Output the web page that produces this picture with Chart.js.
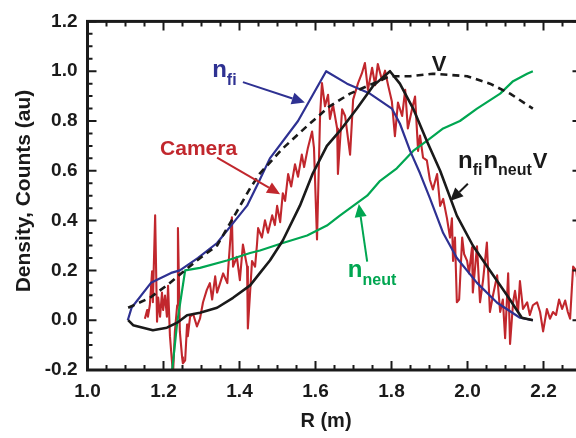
<!DOCTYPE html>
<html>
<head>
<meta charset="utf-8">
<script src="https://cdn.jsdelivr.net/npm/chart.js@4.4.1/dist/chart.umd.min.js"></script>
<style>
  html, body { margin: 0; padding: 0; background: #fff; overflow: hidden; }
  #wrap { width: 576px; height: 438px; overflow: hidden; }
  canvas { display: block; }
</style>
</head>
<body>
<div id="wrap"><canvas id="myChart" width="600" height="438"></canvas></div>
<script>
// n_fi (blue)
const nfiR = [1.106,1.116,1.167,1.220,1.243,1.291,1.341,1.383,1.420,1.449,1.480,1.554,1.628,1.683,1.743,1.801,1.822,1.849,1.875,1.901,1.936,1.972,2.025,2.078,2.138,2.172];
const nfiVal = [0.00,0.05,0.15,0.19,0.20,0.25,0.31,0.39,0.46,0.55,0.65,0.80,1.00,0.95,0.91,0.85,0.79,0.68,0.59,0.49,0.35,0.25,0.15,0.07,0.01,0.00];

// V (dashed)
const vR = [1.107,1.164,1.209,1.288,1.341,1.383,1.428,1.454,1.514,1.578,1.638,1.691,1.751,1.796,1.849,1.909,1.999,2.059,2.112,2.172];
const vVal = [0.05,0.09,0.14,0.24,0.30,0.41,0.53,0.59,0.69,0.78,0.86,0.91,0.95,0.98,0.98,0.99,0.98,0.95,0.91,0.85];

// n_fi n_neut V (black)
const prodR = [1.107,1.120,1.172,1.209,1.236,1.262,1.296,1.341,1.383,1.428,1.454,1.480,1.514,1.559,1.593,1.630,1.664,1.709,1.751,1.796,1.822,1.857,1.893,1.928,1.972,2.014,2.059,2.104,2.143,2.172];
const prodVal = [0.00,-0.02,-0.04,-0.03,-0.01,0.02,0.03,0.05,0.09,0.14,0.19,0.24,0.32,0.46,0.59,0.70,0.76,0.85,0.94,1.00,0.95,0.85,0.72,0.60,0.42,0.30,0.20,0.10,0.01,0.00];

// n_neut (green)
const neutR = [1.216,1.236,1.257,1.296,1.367,1.428,1.454,1.514,1.578,1.630,1.664,1.736,1.770,1.814,1.857,1.893,1.936,1.980,2.025,2.086,2.120,2.157,2.172];
const neutVal = [-0.30,-0.01,0.20,0.21,0.24,0.27,0.28,0.31,0.34,0.38,0.42,0.50,0.56,0.61,0.68,0.72,0.77,0.80,0.85,0.91,0.96,0.99,1.00];

// Camera counts (red)
const camR = [1.151,1.157,1.159,1.164,1.170,1.172,1.178,1.183,1.186,1.191,
  1.196,1.199,1.204,1.209,1.212,1.217,1.222,1.225,1.230,1.236,
  1.238,1.243,1.249,1.251,1.257,1.262,1.264,1.270,1.278,1.288,
  1.296,1.304,1.314,1.322,1.328,1.336,1.341,1.349,1.357,1.368,
  1.370,1.380,1.383,1.393,1.401,1.409,1.420,1.422,1.433,1.441,
  1.446,1.449,1.459,1.467,1.475,1.486,1.493,1.499,1.507,1.514,
  1.520,1.528,1.536,1.546,1.554,1.564,1.570,1.580,1.591,1.596,
  1.604,1.612,1.617,1.625,1.633,1.638,1.646,1.657,1.659,1.670,
  1.678,1.691,1.699,1.712,1.722,1.730,1.738,1.749,1.757,1.764,
  1.775,1.783,1.791,1.801,1.809,1.817,1.828,1.836,1.843,1.854,
  1.862,1.870,1.875,1.883,1.893,1.901,1.909,1.920,1.928,1.936,
  1.946,1.954,1.959,1.962,1.967,1.972,1.978,1.986,1.991,1.999,
  2.004,2.012,2.014,2.025,2.033,2.041,2.051,2.059,2.067,2.078,
  2.086,2.093,2.099,2.107,2.112,2.120,2.125,2.133,2.138,2.146,
  2.157,2.164,2.172,2.183,2.191,2.199,2.209,2.217,2.225,2.233,
  2.241,2.249,2.257,2.264,2.270,2.275,2.278,2.286,2.296];
const camVal = [0.006,0.041,0.014,0.060,0.196,0.072,0.421,-0.006,0.091,0.014,
  0.111,0.041,0.099,0.014,0.138,-0.064,-0.161,-0.219,-0.045,0.060,
  0.370,-0.045,-0.149,-0.173,-0.161,-0.017,-0.064,0.014,0.025,-0.025,
  0.006,0.072,0.122,0.149,0.083,0.176,0.111,0.149,0.188,0.149,
  0.200,0.413,0.215,0.254,0.161,0.304,0.215,-0.033,0.238,0.215,
  0.304,0.370,0.332,0.401,0.351,0.421,0.382,0.459,0.394,0.510,
  0.479,0.587,0.537,0.626,0.576,0.665,0.615,0.692,0.758,0.692,
  0.324,0.820,0.952,0.859,0.905,0.808,0.866,0.770,0.587,0.847,
  0.820,0.665,0.886,0.952,0.991,1.033,0.925,1.014,0.944,1.029,
  0.964,1.002,0.944,0.878,0.739,0.874,0.820,0.925,0.770,0.847,
  0.898,0.680,0.742,0.653,0.642,0.564,0.525,0.587,0.459,0.487,
  0.409,0.332,0.409,0.238,0.332,0.072,0.083,0.332,0.266,0.238,
  0.188,0.293,0.111,0.297,0.072,0.161,0.312,0.033,0.099,0.180,
  0.033,0.083,-0.072,0.188,-0.095,0.072,0.118,0.033,0.157,0.045,
  0.072,0.021,0.060,0.072,0.033,-0.045,0.045,0.006,0.033,0.021,
  0.083,0.045,0.079,0.033,0.006,0.138,0.215,0.200,0.070];

// axis ticks
const xTickValues = [1.0,1.2,1.4,1.6,1.8,2.0,2.2];
const yTickValues = [-0.2,0.0,0.2,0.4,0.6,0.8,1.0,1.2];
const minorStep = 0.05;

const BLUE = "#2e3192", GREEN = "#00a651", RED = "#c1272d", BLACK = "#1a1a1a";

const zip = (xs, ys) => xs.map((x, i) => ({ x: x, y: ys[i] }));

// text notes and arrows, in data units
const notes = [
  { color: BLUE, at: [1.328, 0.975], parts: [["n", 24, 0], ["fi", 16, 8]] },
  { color: RED, at: [1.191, 0.665], parts: [["Camera", 21, 0]] },
  { color: BLACK, at: [1.906, 1.002], parts: [["V", 22, 0]] },
  { color: BLACK, at: [1.975, 0.611], parts: [["n", 24, 0], ["fi", 16, 7], ["n", 24, 0], ["neut", 16, 7], ["V", 22, 0]] },
  { color: GREEN, at: [1.685, 0.173], parts: [["n", 24, 0], ["neut", 16, 8]] }
];
const arrows = [
  { color: BLUE, from: [1.409, 0.956], to: [1.572, 0.874] },
  { color: RED, from: [1.341, 0.653], to: [1.507, 0.506] },
  { color: GREEN, from: [1.736, 0.235], to: [1.714, 0.467] },
  { color: BLACK, from: [2.001, 0.548], to: [1.954, 0.479] }
];

const frameTicks = {
  id: "frameTicks",
  afterDatasetsDraw(chart) {
    const { ctx, chartArea: a, scales: { x, y } } = chart;
    ctx.save();
    ctx.strokeStyle = BLACK;
    ctx.lineWidth = 2;
    ctx.beginPath();
    for (let v = x.min; v <= x.max + 1e-9; v += minorStep) {
      const major = xTickValues.some(t => Math.abs(t - v) < 1e-6);
      const len = major ? 9 : 5;
      const px = x.getPixelForValue(v);
      ctx.moveTo(px, a.bottom); ctx.lineTo(px, a.bottom - len);
      ctx.moveTo(px, a.top); ctx.lineTo(px, a.top + len);
    }
    for (let v = y.min; v <= y.max + 1e-9; v += minorStep) {
      const major = yTickValues.some(t => Math.abs(t - v) < 1e-6);
      const len = major ? 9 : 5;
      const py = y.getPixelForValue(v);
      ctx.moveTo(a.left, py); ctx.lineTo(a.left + len, py);
      ctx.moveTo(a.right, py); ctx.lineTo(a.right - len, py);
    }
    ctx.stroke();
    ctx.lineWidth = 3;
    ctx.strokeRect(a.left, a.top, a.right - a.left, a.bottom - a.top);

    // axis titles
    ctx.fillStyle = BLACK;
    ctx.font = "bold 20px 'Liberation Sans', Arial, sans-serif";
    ctx.textAlign = "center";
    ctx.textBaseline = "middle";
    ctx.fillText("R (m)", 326, 421);
    ctx.translate(24, 191);
    ctx.rotate(-Math.PI / 2);
    ctx.font = "bold 21px 'Liberation Sans', Arial, sans-serif";
    ctx.fillText("Density, Counts (au)", 0, 0);
    ctx.restore();

    // notes
    ctx.save();
    ctx.textAlign = "left";
    ctx.textBaseline = "alphabetic";
    notes.forEach(n => {
      ctx.fillStyle = n.color;
      let px = x.getPixelForValue(n.at[0]);
      const py = y.getPixelForValue(n.at[1]);
      n.parts.forEach(p => {
        ctx.font = "bold " + p[1] + "px 'Liberation Sans', Arial, sans-serif";
        ctx.fillText(p[0], px, py + p[2]);
        px += ctx.measureText(p[0]).width + (p[1] < 20 ? 1 : 0);
      });
    });
    arrows.forEach(ar => {
      const x0 = x.getPixelForValue(ar.from[0]), y0 = y.getPixelForValue(ar.from[1]);
      const x1 = x.getPixelForValue(ar.to[0]), y1 = y.getPixelForValue(ar.to[1]);
      const ang = Math.atan2(y1 - y0, x1 - x0);
      const hl = 13, hw = 6;
      const bx = x1 - hl * Math.cos(ang), by = y1 - hl * Math.sin(ang);
      ctx.strokeStyle = ar.color;
      ctx.fillStyle = ar.color;
      ctx.lineWidth = 2;
      ctx.beginPath();
      ctx.moveTo(x0, y0); ctx.lineTo(bx, by);
      ctx.stroke();
      ctx.beginPath();
      ctx.moveTo(x1, y1);
      ctx.lineTo(bx + hw * Math.sin(ang), by - hw * Math.cos(ang));
      ctx.lineTo(bx - hw * Math.sin(ang), by + hw * Math.cos(ang));
      ctx.closePath();
      ctx.fill();
    });
    ctx.restore();
  }
};

const tickFont = { family: "'Liberation Sans', Arial, sans-serif", size: 19, weight: "bold" };

const myChart = new Chart("myChart", {
  type: "line",
  data: {
    datasets: [
      { label: "nfi nneut V", data: zip(prodR, prodVal), borderColor: BLACK, borderWidth: 2.6 },
      { label: "V", data: zip(vR, vVal), borderColor: BLACK, borderWidth: 2.6, borderDash: [7, 5] },
      { label: "nfi", data: zip(nfiR, nfiVal), borderColor: BLUE, borderWidth: 2.2 },
      { label: "nneut", data: zip(neutR, neutVal), borderColor: GREEN, borderWidth: 2.2 },
      { label: "Camera", data: zip(camR, camVal), borderColor: RED, borderWidth: 2.1 }
    ]
  },
  options: {
    responsive: false,
    animation: false,
    events: [],
    layout: { padding: { top: 9, right: 18.5, left: 0, bottom: 0 } },
    elements: {
      point: { radius: 0 },
      line: { tension: 0, fill: false, borderJoinStyle: "round" }
    },
    plugins: { legend: { display: false }, tooltip: { enabled: false } },
    scales: {
      x: {
        type: "linear",
        min: 1.0,
        max: 2.3,
        grid: { display: false, drawTicks: false },
        border: { display: false },
        afterBuildTicks: s => { s.ticks = xTickValues.map(v => ({ value: v })); },
        afterFit: s => { s.height = 68; },
        ticks: {
          color: BLACK, font: tickFont, padding: 10, maxRotation: 0,
          callback: v => v.toFixed(1)
        }
      },
      y: {
        min: -0.2,
        max: 1.2,
        grid: { display: false, drawTicks: false },
        border: { display: false },
        afterBuildTicks: s => { s.ticks = yTickValues.map(v => ({ value: v })); },
        afterFit: s => { s.width = 87.5; },
        ticks: {
          color: BLACK, font: tickFont, padding: 10,
          callback: v => v.toFixed(1)
        }
      }
    }
  },
  plugins: [frameTicks]
});
</script>
</body>
</html>
